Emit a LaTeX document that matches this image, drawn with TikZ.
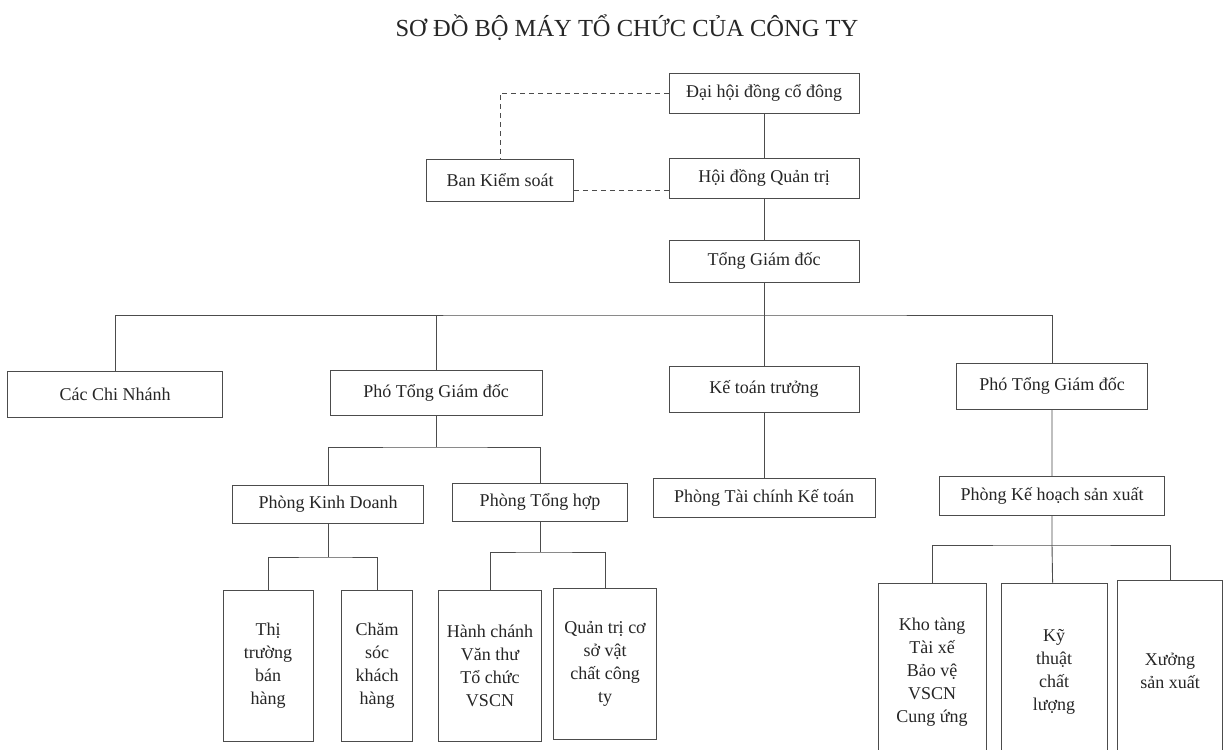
\documentclass[tikz,border=0pt]{standalone}
\usepackage{fontspec}
\setmainfont{Liberation Serif}
\usetikzlibrary{positioning}
\tikzset{node distance=85pt}
\tikzset{box/.style={draw=black!70,line width=0.9pt,minimum height=40pt,inner sep=2pt,text=black!85,font=\fontsize{18}{23}\selectfont},
         tall/.style={box,align=center,minimum height=151pt},
         link/.style={draw=black!70,line width=0.9pt},
         dashlink/.style={link,dash pattern=on 5pt off 4pt}}

\begin{document}
\begin{tikzpicture}[x=1pt,y=-1pt]
\clip (0,0) rectangle (1225,749);
\fill[white] (0,0) rectangle (1225,749);
\node[anchor=base,text=black!85,font=\fontsize{24.5}{28}\selectfont] (title) at (627,37) {SƠ ĐỒ BỘ MÁY TỔ CHỨC CỦA CÔNG TY};

\node[box,minimum width=190pt] (dhcd) at (764,93) {Đại hội đồng cổ đông};
\node[box,minimum width=190pt] (hdqt) [below of=dhcd] {Hội đồng Quản trị};
\node[box,minimum width=190pt,minimum height=42pt] (tgd) [below of=hdqt,node distance=83pt] {Tổng Giám đốc};
\node[box,minimum width=147pt,minimum height=42pt] (bks) at (500,180) {Ban Kiểm soát};

\node[box,minimum width=215pt,minimum height=46pt] (ccn) at (115,394) {Các Chi Nhánh};
\node[box,minimum width=212pt,minimum height=45pt] (ptgd1) at (436,393) {Phó Tổng Giám đốc};
\node[box,minimum width=190pt,minimum height=46pt] (ktt) at (764,389) {Kế toán trưởng};
\node[box,minimum width=191pt,minimum height=46pt] (ptgd2) at (1052,386) {Phó Tổng Giám đốc};

\node[box,minimum width=191pt,minimum height=38pt] (pkd) at (328,504) {Phòng Kinh Doanh};
\node[box,minimum width=175pt,minimum height=38pt] (pth) at (540,502) {Phòng Tổng hợp};
\node[box,minimum width=222pt,minimum height=39pt] (ptckt) at (764,498) {Phòng Tài chính Kế toán};
\node[box,minimum width=225pt,minimum height=39pt] (pkhsx) at (1052,496) {Phòng Kế hoạch sản xuất};

\node[tall,minimum width=90pt] (ttbh) at (268,666) {Thị\\trường\\bán\\hàng};
\node[tall,minimum width=71pt] (cskh) at (377,666) {Chăm\\sóc\\khách\\hàng};
\node[tall,minimum width=103pt] (hcvt) at (490,666) {Hành chánh\\Văn thư\\Tổ chức\\VSCN};
\node[tall,minimum width=103pt] (qtcs) at (605,664) {Quản trị cơ\\sở vật\\chất công\\ty};
\node[tall,minimum width=108pt,minimum height=178pt] (kt) at (932,672) {Kho tàng\\Tài xế\\Bảo vệ\\VSCN\\Cung ứng};
\node[tall,minimum width=106pt,minimum height=178pt] (ktcl) at (1054,672) {Kỹ\\thuật\\chất\\lượng};
\node[tall,minimum width=105pt,minimum height=181pt] (xsx) at (1170,671) {Xưởng\\sản xuất};

\coordinate (bus1) at (764,315);
\coordinate (bus2) at (436,447);
\coordinate (bus3) at (328,557);
\coordinate (bus4) at (540,552);
\coordinate (bus5) at (1052,545);

\draw[dashlink] (dhcd.west) -| (bks.north);
\draw[dashlink] ([yshift=-10pt]bks.east) -- ([yshift=-10pt]bks.east -| hdqt.west);
\draw[link] (dhcd) -- (hdqt);
\draw[link] (hdqt) -- (tgd);
\draw[link] (tgd) -- (bus1) -- (ktt);
\draw[link] (ccn.north) |- (bus1) -| (ptgd2.north);
\draw[link] (ptgd1.north) -- (ptgd1.north |- bus1);
\draw[link] (ktt) -- (ptckt);
\draw[link] (ptgd1) -- (bus2);
\draw[link] (pkd.north) |- (bus2) -| (pth.north);
\draw[link] (pkd) -- (bus3);
\draw[link] (ttbh.north) |- (bus3) -| (cskh.north);
\draw[link] (pth) -- (bus4);
\draw[link] (hcvt.north) |- (bus4) -| (qtcs.north);
\draw[link] (ptgd2) -- (pkhsx) -- (bus5) -- (ktcl);
\draw[link] (kt.north) |- (bus5) -| (xsx.north);
\end{tikzpicture}
\end{document}
